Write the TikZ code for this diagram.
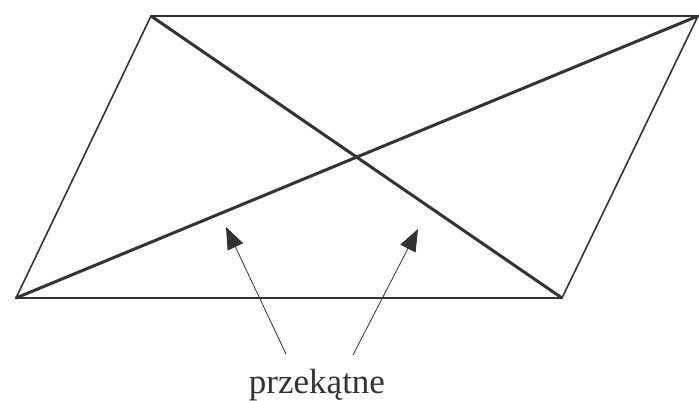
\documentclass[tikz,border=0pt]{standalone}
\usepackage{fontspec}
\setmainfont{Liberation Serif}
\usetikzlibrary{arrows.meta}
\definecolor{ink}{HTML}{333333}
\tikzset{
  side/.style={draw=ink, line width=1.6pt},
  diag/.style={draw=ink, line width=3pt},
  pointer/.style={draw=ink, line width=0.8pt, -{Triangle[length=22pt,width=17pt]}},
}
\begin{document}
\begin{tikzpicture}[x=1pt,y=-1pt]
\useasboundingbox[fill=white] (0,0) rectangle (699,401);
\coordinate (A) at (16,298);
\coordinate (B) at (562,298);
\coordinate (C) at (698,16);
\coordinate (D) at (151,16);
\draw[side] (A) -- (B) -- (C) -- (D) -- cycle;
\draw[diag] (D) -- (B);
\draw[diag] (A) -- (C);
\node[text=ink, font=\fontsize{35}{37}\selectfont, inner sep=0pt, anchor=base] (lbl) at (317,393) {przekątne};
\coordinate (t1) at (286,354);
\coordinate (t2) at (353,355);
\coordinate (h1) at (226,227);
\coordinate (h2) at (418,229);
\draw[pointer] (t1) -- (h1);
\draw[pointer] (t2) -- (h2);
\end{tikzpicture}
\end{document}
